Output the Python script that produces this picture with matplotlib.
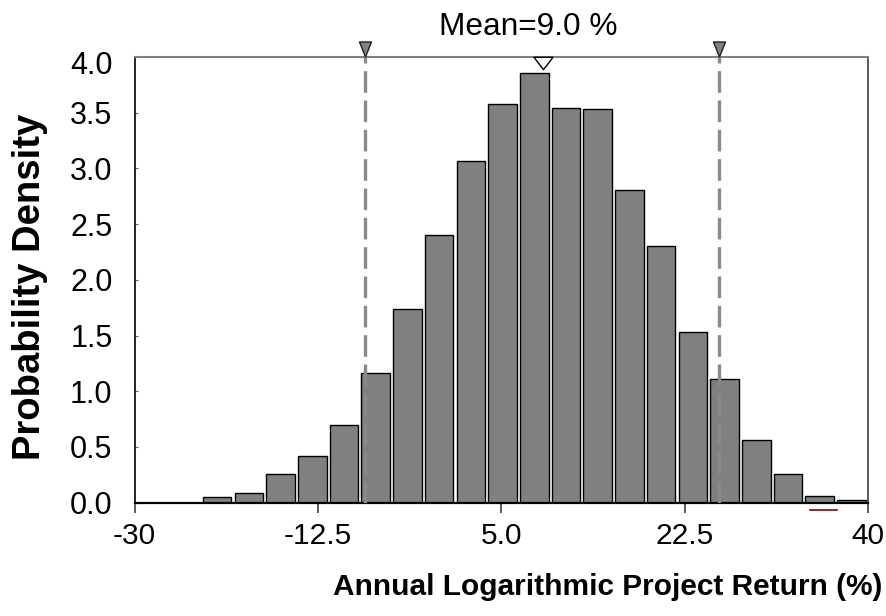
import numpy as np
import matplotlib
matplotlib.use('Agg')
import matplotlib.pyplot as plt
from matplotlib import transforms
from matplotlib.path import Path

plt.rcParams['font.family'] = ['Liberation Sans', 'DejaVu Sans']

# Istogramma: intervallo delle classi e densità
bin_lo = -29.6
bin_hi = 40.0
density = [0.0, 0.0, 0.048, 0.084, 0.26, 0.42, 0.695, 1.167, 1.74, 2.40, 3.07,
           3.58, 3.86, 3.54, 3.53, 2.81, 2.30, 1.53, 1.11, 0.566, 0.255, 0.057, 0.024]

# Linee tratteggiate (percentili) e media
limits = [-8.0, 25.75]
mean_val = 9.0

xticks = [-30, -12.5, 5.0, 22.5, 40]
xtick_labels = ['-30', '-12.5', '5.0', '22.5', '40']
yticks = [0.0, 0.5, 1.0, 1.5, 2.0, 2.5, 3.0, 3.5, 4.0]

fig = plt.figure(figsize=(8.86, 6.16), dpi=100)
ax = fig.add_axes([0.152, 0.184, 0.828, 0.7235])

edges = np.linspace(bin_lo, bin_hi, len(density) + 1)
w = edges[1] - edges[0]
dens = np.array(density)
keep = dens > 0  # le classi vuote non si disegnano
ax.bar(edges[:-1][keep] + 0.02 * w, dens[keep], width=0.9 * w, align='edge',
       color='#808080', edgecolor='black', linewidth=1.0, zorder=2)

ax.set_xlim(-30, 40)
ax.set_ylim(0, 4.0)

# linee tratteggiate verticali
for x in limits:
    ax.axvline(x, color='#8a8a8a', lw=2.4, dashes=(6.5, 2.3), zorder=3)

# triangoli pieni sopra il bordo superiore
trans = transforms.blended_transform_factory(ax.transData, ax.transAxes)
tri_down = Path([(-0.8, 1), (0.8, 1), (0, -1), (-0.8, 1)],
                [Path.MOVETO, Path.LINETO, Path.LINETO, Path.CLOSEPOLY])
up = transforms.offset_copy(trans, fig=fig, y=5.4, units='points')
ax.plot(limits, [1, 1], linestyle='none', marker=tri_down, markersize=10.8,
        markerfacecolor='#808080', markeredgecolor='#202020', markeredgewidth=1.0,
        transform=up, clip_on=False, zorder=5)

# triangolo vuoto per la media
tri_flat = Path([(-1, 0.65), (1, 0.65), (0, -0.65), (-1, 0.65)],
                [Path.MOVETO, Path.LINETO, Path.LINETO, Path.CLOSEPOLY])
down = transforms.offset_copy(trans, fig=fig, y=-4.6, units='points')
ax.plot([mean_val], [1], linestyle='none', marker=tri_flat, markersize=13.7,
        markerfacecolor='white', markeredgecolor='black', markeredgewidth=1.0,
        transform=down, clip_on=False, zorder=5)

fig.text(528 / 886, 1 - 27 / 616, 'Mean=%.1f %%' % mean_val, fontsize=22.8,
         ha='center', va='center')

# bordi
ax.spines['top'].set_color('#808080')
ax.spines['top'].set_linewidth(1.5)
ax.spines['right'].set_color('#404040')
ax.spines['right'].set_linewidth(1.2)
ax.spines['left'].set_color('black')
ax.spines['left'].set_linewidth(1.2)
ax.spines['bottom'].set_color('black')
ax.spines['bottom'].set_linewidth(1.6)

ax.set_xticks(xticks)
ax.set_xticklabels(xtick_labels)
ax.set_yticks(yticks)
ax.set_yticklabels(['%.1f' % v for v in yticks])
ax.tick_params(axis='x', direction='out', length=7.2, width=1.2, color='#404040',
               labelsize=21.5, pad=7)
ax.tick_params(axis='y', direction='in', length=2.5, width=0.8, color='#606060',
               labelsize=22, pad=16)
# l'etichetta 4.0 sta un po' più in basso, come nell'originale
top_lab = ax.get_yticklabels()[-1]
top_lab.set_transform(top_lab.get_transform() +
                      transforms.ScaledTranslation(0, -6 / 100, fig.dpi_scale_trans))

# segno rosso sotto l'asse
ax.plot([0.92, 0.958], [-0.017, -0.017], color='#8b0000', lw=1.2,
        transform=ax.transAxes, clip_on=False)

fig.text(608 / 886, 1 - 587 / 616, 'Annual Logarithmic Project Return (%)',
         fontsize=21.5, fontweight='bold', ha='center', va='center')
fig.text(30 / 886, 1 - 287 / 616, 'Probability Density', fontsize=27.5,
         fontweight='bold', rotation=90, ha='center', va='center')

fig.savefig('out.png', dpi=100)
